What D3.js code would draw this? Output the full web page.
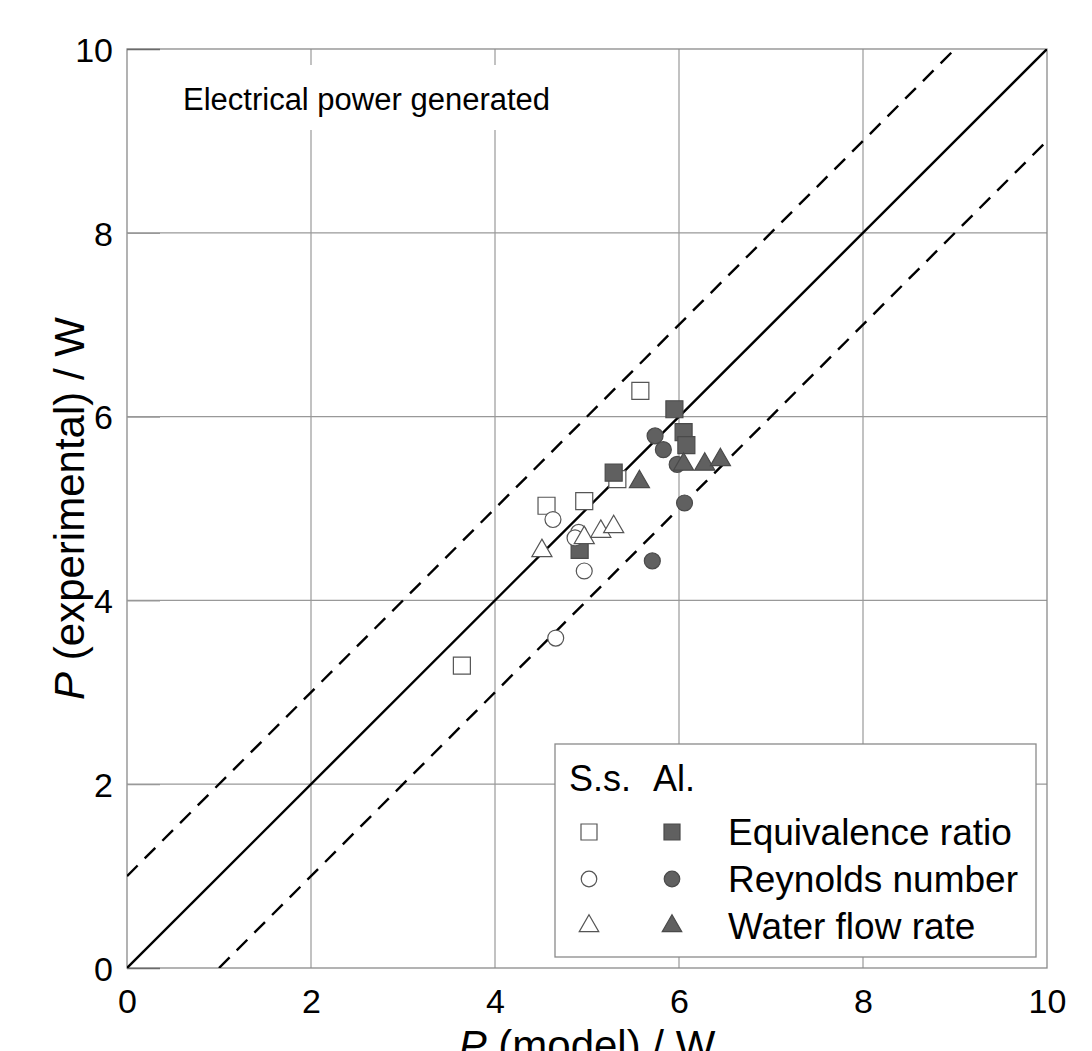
<!DOCTYPE html>
<html>
<head>
<meta charset="utf-8">
<script src="https://cdn.jsdelivr.net/npm/d3@7"></script>
<style>
  body { margin: 0; background: #fff; }
  svg text { font-family: "Liberation Sans", Arial, sans-serif; fill: #000; }
</style>
</head>
<body>
<svg id="chart" width="1092" height="1051"></svg>
<script>
// values: [P model, P experimental]
var ssEquivalence = [[5.58, 6.28], [4.56, 5.03], [4.97, 5.08], [5.33, 5.32], [3.64, 3.29]];
var alEquivalence = [[5.95, 6.08], [6.05, 5.83], [6.08, 5.69], [5.29, 5.39], [4.92, 4.55]];
var ssReynolds = [[4.63, 4.88], [4.91, 4.74], [4.87, 4.68], [4.97, 4.32], [4.66, 3.59]];
var alReynolds = [[5.74, 5.79], [5.83, 5.64], [5.98, 5.48], [6.06, 5.06], [5.71, 4.43]];
var ssWaterFlow = [[4.51, 4.54], [4.97, 4.68], [5.15, 4.75], [5.29, 4.80]];
var alWaterFlow = [[5.57, 5.29], [6.05, 5.48], [6.28, 5.48], [6.45, 5.53]];

var tickValues = [0, 2, 4, 6, 8, 10];
var legendLabels = ["Equivalence ratio", "Reynolds number", "Water flow rate"];

(function () {
var svg = d3.select("#chart");
var pLeft = 127, pRight = 1047, pTop = 49, pBottom = 968;

var x = d3.scaleLinear().domain([0, 10]).range([pLeft, pRight]);
var y = d3.scaleLinear().domain([0, 10]).range([pBottom, pTop]);

var filled = "#606060", filledStroke = "#4a4a4a", openStroke = "#555";

svg.append("defs").append("clipPath").attr("id", "plotclip")
    .append("rect").attr("x", pLeft).attr("y", pTop)
    .attr("width", pRight - pLeft).attr("height", pBottom - pTop);

// gridlines
svg.append("g").selectAll("line").data(tickValues.slice(1, 5)).enter()
    .append("line")
    .attr("x1", function (d) { return x(d); }).attr("x2", function (d) { return x(d); })
    .attr("y1", pTop).attr("y2", pBottom)
    .attr("stroke", "#999").attr("stroke-width", 1.2);
svg.append("g").selectAll("line").data(tickValues.slice(1, 5)).enter()
    .append("line")
    .attr("y1", function (d) { return y(d); }).attr("y2", function (d) { return y(d); })
    .attr("x1", pLeft).attr("x2", pRight)
    .attr("stroke", "#999").attr("stroke-width", 1.2);

// frame
svg.append("rect").attr("x", pLeft).attr("y", pTop)
    .attr("width", pRight - pLeft).attr("height", pBottom - pTop)
    .attr("fill", "none").attr("stroke", "#8a8a8a").attr("stroke-width", 1.3);

// axes (labels + inward ticks at the ends)
var yAxis = d3.axisLeft(y).tickValues(tickValues).tickSizeInner(-33).tickSizeOuter(0).tickPadding(14);
var gy = svg.append("g").attr("transform", "translate(" + pLeft + ",0)").call(yAxis);
gy.select(".domain").remove();
gy.selectAll(".tick line").attr("stroke", function (d) { return (d === 0 || d === 10) ? "#6a6a6a" : "#999"; })
    .attr("stroke-width", 1.3);
gy.selectAll(".tick text").attr("font-size", 34).attr("fill", "#000").attr("dy", "0.36em");
gy.attr("font-family", null);

var xAxis = d3.axisBottom(x).tickValues(tickValues).tickSize(0).tickPadding(21);
var gx = svg.append("g").attr("transform", "translate(0," + pBottom + ")").call(xAxis);
gx.select(".domain").remove();
gx.selectAll(".tick text").attr("font-size", 34).attr("fill", "#000");
gx.attr("font-family", null);

// reference lines y = x, y = x + 1, y = x - 1
var line = d3.line().x(function (d) { return x(d[0]); }).y(function (d) { return y(d[1]); });
var refLines = [
    { pts: [[0, 0], [10, 10]], dash: null },
    { pts: [[0, 1], [9, 10]], dash: "15,10" },
    { pts: [[1, 0], [10, 9]], dash: "15,10" }
];
svg.append("g").attr("clip-path", "url(#plotclip)").selectAll("path").data(refLines).enter()
    .append("path")
    .attr("d", function (d) { return line(d.pts); })
    .attr("fill", "none").attr("stroke", "#000").attr("stroke-width", 2.4)
    .attr("stroke-dasharray", function (d) { return d.dash; });

// markers
var shapes = {
    square: d3.symbolSquare,
    circle: d3.symbolCircle,
    triangle: d3.symbolTriangle
};
var sizes = { square: 289, circle: 200, triangle: 175 };
var series = [
    { data: ssEquivalence, shape: "square", open: true },
    { data: alEquivalence, shape: "square", open: false },
    { data: ssReynolds, shape: "circle", open: true },
    { data: alReynolds, shape: "circle", open: false },
    { data: ssWaterFlow, shape: "triangle", open: true },
    { data: alWaterFlow, shape: "triangle", open: false }
];
series.forEach(function (s) {
    svg.append("g").selectAll("path").data(s.data).enter()
        .append("path")
        .attr("d", d3.symbol().type(shapes[s.shape]).size(sizes[s.shape])())
        .attr("transform", function (d) { return "translate(" + x(d[0]) + "," + y(d[1]) + ")"; })
        .attr("fill", s.open ? "#fff" : filled)
        .attr("stroke", s.open ? openStroke : filledStroke)
        .attr("stroke-width", 1.2);
});

// title with white background
var title = svg.append("g");
var titleBg = title.append("rect").attr("fill", "#fff");
var titleText = title.append("text").attr("x", 183).attr("y", 110)
    .attr("font-size", 31).text("Electrical power generated");
var bb = titleText.node().getBBox();
titleBg.attr("x", bb.x - 6).attr("y", 65).attr("width", bb.width + 12).attr("height", 65);

// axis titles
var xt = svg.append("text").attr("x", x(5)).attr("y", 1060)
    .attr("text-anchor", "middle").attr("font-size", 42);
xt.append("tspan").attr("font-style", "italic").text("P");
xt.append("tspan").text(" (model) / W");

var yt = svg.append("text").attr("transform", "translate(84," + y(5) + ") rotate(-90)")
    .attr("text-anchor", "middle").attr("font-size", 42);
yt.append("tspan").attr("font-style", "italic").text("P");
yt.append("tspan").text(" (experimental) / W");

// legend
var lg = svg.append("g");
lg.append("rect").attr("x", 555).attr("y", 744).attr("width", 481).attr("height", 213)
    .attr("fill", "#fff").attr("stroke", "#8a8a8a").attr("stroke-width", 1.3);
lg.append("text").attr("x", 569).attr("y", 791).attr("font-size", 36).text("S.s.");
lg.append("text").attr("x", 653).attr("y", 791).attr("font-size", 36).text("Al.");
var legendShapes = ["square", "circle", "triangle"];
var legendSizes = { square: 256, circle: 190, triangle: 165 };
legendLabels.forEach(function (label, i) {
    var cy = 832 + i * 47;
    var sym = d3.symbol().type(shapes[legendShapes[i]]).size(legendSizes[legendShapes[i]]);
    lg.append("path").attr("d", sym()).attr("transform", "translate(589," + cy + ")")
        .attr("fill", "#fff").attr("stroke", openStroke).attr("stroke-width", 1.2);
    lg.append("path").attr("d", sym()).attr("transform", "translate(672," + cy + ")")
        .attr("fill", filled).attr("stroke", filledStroke).attr("stroke-width", 1.2);
    lg.append("text").attr("x", 728).attr("y", cy + 13).attr("font-size", 37).text(label);
});
})();
</script>
</body>
</html>
